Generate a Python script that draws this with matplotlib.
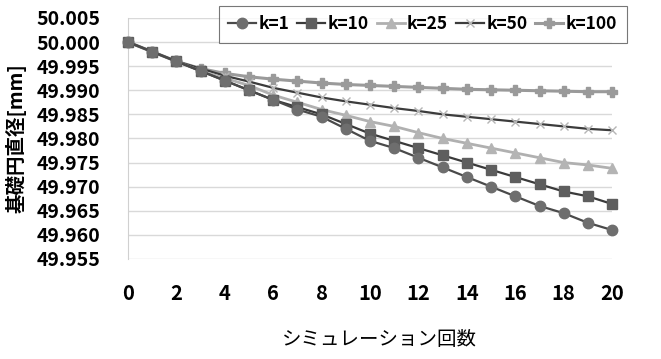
import numpy as np
import matplotlib
matplotlib.use("Agg")
import matplotlib.pyplot as plt
from matplotlib.ticker import FormatStrFormatter

plt.rcParams['font.family'] = ['Noto Sans CJK JP', 'DejaVu Sans']

# simulation count
sim = list(range(21))

# base circle diameter [mm] for each k
k1 = [50.000, 49.998, 49.996, 49.994, 49.992, 49.990, 49.988, 49.986, 49.9845, 49.982, 49.9795,
      49.978, 49.976, 49.974, 49.972, 49.970, 49.968, 49.966, 49.9645, 49.9625, 49.961]
k10 = [50.000, 49.998, 49.996, 49.994, 49.992, 49.990, 49.988, 49.9865, 49.985, 49.983, 49.981,
       49.9795, 49.978, 49.9765, 49.975, 49.9735, 49.972, 49.9705, 49.969, 49.968, 49.9664]
k25 = [50.000, 49.998, 49.996, 49.994, 49.9925, 49.991, 49.989, 49.9875, 49.986, 49.9848, 49.9835,
       49.9825, 49.9812, 49.980, 49.979, 49.978, 49.977, 49.976, 49.975, 49.9745, 49.9738]
k50 = [50.000, 49.998, 49.996, 49.9945, 49.993, 49.9918, 49.9905, 49.9895, 49.9885, 49.9877, 49.987,
       49.9863, 49.9857, 49.985, 49.9845, 49.984, 49.9835, 49.983, 49.9825, 49.982, 49.9817]
k100 = [50.000, 49.998, 49.996, 49.9945, 49.9935, 49.9928, 49.9923, 49.9919, 49.9915, 49.9912, 49.991,
        49.9908, 49.9906, 49.9904, 49.9902, 49.9901, 49.990, 49.9899, 49.9898, 49.9897, 49.9897]

yticks = [49.955, 49.960, 49.965, 49.970, 49.975, 49.980, 49.985, 49.990, 49.995, 50.000, 50.005]
xticks = list(range(0, 21, 2))

fig = plt.figure(figsize=(6.61, 3.59), dpi=100)
ax = fig.add_axes([0.1936, 0.2786, 0.7325, 0.6714])

ax.plot(sim, k1, color='#4a4a4a', lw=1.6, marker='o', ms=7.5,
        mfc='#6e6e6e', mec='#6e6e6e', label='k=1', clip_on=False, zorder=5)
ax.plot(sim, k10, color='#3a3a3a', lw=1.6, marker='s', ms=7.5,
        mfc='#5e5e5e', mec='#5e5e5e', label='k=10', clip_on=False, zorder=4)
ax.plot(sim, k25, color='#b0b0b0', lw=2.0, marker='^', ms=7.5,
        mfc='#b4b4b4', mec='#b4b4b4', label='k=25', clip_on=False, zorder=3)
ax.plot(sim, k50, color='#3c3c3c', lw=1.6, marker='x', ms=6, mew=1.0,
        mec='#b5b5b5', label='k=50', clip_on=False, zorder=2)
ax.plot(sim, k100, color='#9a9a9a', lw=2.2, marker='P', ms=7,
        mfc='#9a9a9a', mec='#9a9a9a', label='k=100', clip_on=False, zorder=1)

ax.set_xlim(0, 20)
ax.set_ylim(49.955, 50.005)
ax.set_yticks(yticks)
ax.set_xticks(xticks)
ax.yaxis.set_major_formatter(FormatStrFormatter('%.3f'))
ax.grid(axis='y', color='#d9d9d9', lw=1.0)
ax.set_axisbelow(True)

for s in ['top', 'right', 'bottom']:
    ax.spines[s].set_visible(False)
ax.spines['left'].set_color('#d0d0d0')

ax.tick_params(length=0)
ax.tick_params(axis='y', pad=20, labelsize=14)
ax.tick_params(axis='x', pad=17, labelsize=14.5)
for lab in ax.get_xticklabels() + ax.get_yticklabels():
    lab.set_fontweight('bold')

ax.set_ylabel('基礎円直径[mm]', fontsize=14, fontweight='bold')
ax.yaxis.set_label_coords(-0.21, 0.5)
ax.set_xlabel('シミュレーション回数', fontsize=14)
ax.xaxis.set_label_coords(0.52, -0.29)

leg = ax.legend(loc='upper right', bbox_to_anchor=(1.03, 1.05), ncol=5,
                prop={'weight': 'bold', 'size': 12.5}, frameon=True, fancybox=False,
                handlelength=1.6, handletextpad=0.15, columnspacing=0.45,
                borderpad=0.55, borderaxespad=0.0)
leg.get_frame().set_edgecolor('#555555')
leg.get_frame().set_linewidth(0.8)

fig.savefig('out.png', dpi=100)
